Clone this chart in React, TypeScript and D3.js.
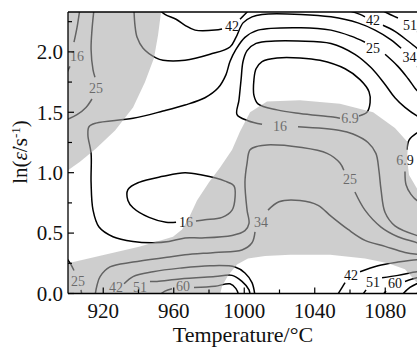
import { useEffect } from 'react';
import * as d3 from 'd3';

// processing map: temperature (°C) vs ln(strain rate)
const xDomain = [900, 1100];
const yDomain = [0, 2.33];
const xTicks = [920, 960, 1000, 1040, 1080];
const xMinorTicks = [940, 980, 1020, 1060];
const yTicks = [0, 0.5, 1.0, 1.5, 2.0];
const yMinorTicks = [0.25, 0.75, 1.25, 1.75, 2.25];

// instability domains (grey), [T, lnRate]
const grayTopLeft = [
  [895.5, 2.39], [953.3, 2.39], [952.8, 2.33], [951.1, 2.14], [948.8, 1.95], [943.7, 1.75],
  [936.9, 1.54], [926.7, 1.35], [915.9, 1.2], [906.8, 1.09], [900, 1.02], [895.5, 0.97],
];
const grayBand = [
  [895.5, 0.24], [900, 0.25], [940.9, 0.39], [959.6, 0.47], [964.7, 0.53], [968.7, 0.63],
  [973.2, 0.77], [980, 0.92], [986.2, 1.04], [993.1, 1.19], [997.6, 1.34], [1003.3, 1.5],
  [1012.9, 1.59], [1031.6, 1.6], [1054.3, 1.57], [1073.1, 1.5], [1085.5, 1.37], [1092.9, 1.25],
  [1092.4, 1.11], [1093.5, 0.98], [1098, 0.87], [1102.6, 0.86], [1102.6, 0.07], [1098, 0.09],
  [1091.2, 0.2], [1081.6, 0.25], [1068.5, 0.29], [1048.7, 0.32], [1026, 0.32], [1011.8, 0.31],
  [1002.1, 0.29], [995.9, 0.24], [990.8, 0.15], [987.4, 0.06], [985.7, -0.04], [895.5, -0.04],
];

// efficiency contour pieces (split where a label sits)
const c16TopLeft = [[[906.8, 2.36], [905.1, 2.2], [903.4, 2.08]], [[901.1, 1.88], [899.4, 1.83]]];
const c25TopLeft = [
  [[914.8, 2.36], [913.6, 2.18], [913.1, 2.02], [914.2, 1.85], [915.3, 1.79]],
  [[913.6, 1.61], [910.2, 1.54], [905.1, 1.48], [899.4, 1.44]],
];
const c34Upper = [
  [[937.4, 2.36], [938, 2.22], [939.2, 2.12], [942.6, 2.03], [949.9, 1.95], [953.9, 1.93],
   [966.4, 1.93], [980.6, 1.98], [991.9, 2.04], [995.3, 2.12], [999.3, 2.24], [1004.4, 2.29],
   [1010.1, 2.31], [1032.2, 2.31], [1049.2, 2.29], [1064.5, 2.24], [1074.2, 2.18], [1083.3, 2.1],
   [1089, 2.03]],
  [[1098, 1.88], [1100.9, 1.85]],
];
const c42Arc = [
  [[951.1, 2.36], [955, 2.31], [961.3, 2.27], [966.4, 2.22], [972.1, 2.18], [983.4, 2.18], [987.4, 2.19]],
  [[997.6, 2.27], [1001.6, 2.33], [1003.3, 2.36]],
];
const c42Upper = [
  [[1054.3, 2.36], [1057.2, 2.35], [1065.7, 2.31], [1068.5, 2.29]],
  [[1078.7, 2.22], [1085.5, 2.17], [1092.9, 2.09], [1098, 2.03], [1100.9, 1.99]],
];
const c51Upper = [[[1075.9, 2.36], [1079.9, 2.33], [1087.2, 2.28]], [[1098, 2.17], [1100, 2.16]]];
const c25Main = [
  [[1100.9, 1.65], [1098, 1.68], [1092.9, 1.78], [1087.2, 1.88], [1079.9, 1.98]],
  [[1068.5, 2.08], [1060.6, 2.13], [1049.2, 2.18], [1032.2, 2.2], [1007.8, 2.18], [1000.4, 2.12],
   [995.3, 2.02], [991.9, 1.92], [989.6, 1.81], [985.1, 1.7], [977.7, 1.62], [966.4, 1.56],
   [953.9, 1.51], [936.9, 1.45], [915.9, 1.41], [911.9, 1.38], [911.3, 1.31], [913.1, 1.16],
   [913.1, 0.92], [914.2, 0.69], [917.6, 0.55], [925.5, 0.47], [936.9, 0.43], [948.2, 0.42],
   [957.3, 0.43], [966.4, 0.46], [976, 0.46], [993.1, 0.48], [1000.4, 0.52], [1002.7, 0.58],
   [1001.6, 0.69], [1000.4, 0.92], [1001.6, 1.08], [1003.3, 1.19], [1007.8, 1.22], [1012.9, 1.23],
   [1031.6, 1.21], [1047, 1.16], [1054.3, 1.08], [1056.5, 1.02]],
  [[1062.8, 0.84], [1068.5, 0.69], [1077.6, 0.55], [1087.2, 0.47], [1098, 0.42], [1100.9, 0.4]],
];
const c16Main = [
  [[1100.9, 1.45], [1098, 1.47], [1091.2, 1.54], [1085.5, 1.62], [1079.9, 1.73], [1071.9, 1.87],
   [1062.8, 1.98], [1049.2, 2.07], [1030.5, 2.09], [1017.5, 2.09], [1006.7, 2.07], [1001.6, 2.01],
   [999.3, 1.92], [998.2, 1.77], [997, 1.6], [995.9, 1.48], [1002.1, 1.43], [1010.1, 1.4]],
  [[1030.5, 1.38], [1054.3, 1.35], [1061.7, 1.32], [1070.2, 1.25], [1074.7, 1.16], [1076.4, 1.02],
   [1077.6, 0.86], [1079.9, 0.67], [1085.5, 0.56], [1098, 0.48], [1100.9, 0.47]],
];
const c69Loop = [
  [[1065.1, 1.47], [1069.6, 1.5], [1071.4, 1.58], [1070.8, 1.67], [1065.7, 1.77], [1057.2, 1.86],
   [1043, 1.93], [1031.6, 1.95], [1018.6, 1.95], [1010.1, 1.92], [1006.7, 1.86], [1005.5, 1.77],
   [1005.5, 1.64], [1007.8, 1.57], [1018.6, 1.52], [1031.6, 1.49], [1050.4, 1.46], [1054.3, 1.45]],
];
const c69Right = [
  [[1100.9, 1.35], [1098, 1.33], [1093.5, 1.27], [1092.4, 1.19]],
  [[1091.2, 1.01], [1091.8, 0.9], [1094.6, 0.82], [1098, 0.77], [1100.9, 0.76]],
];
const c16Loop = [
  [[972.6, 0.6], [977.7, 0.61], [987.4, 0.63], [993.1, 0.69], [994.8, 0.8], [994.2, 0.89],
   [989.1, 0.93], [976, 0.98], [966.4, 1.0], [953.9, 0.97], [940.3, 0.92], [934, 0.86],
   [934, 0.77], [936.9, 0.71], [946, 0.63], [955.6, 0.59], [961.3, 0.59]],
];
const c25Corner = [[[899.4, 0.29], [901.7, 0.24], [903.4, 0.19]], [[907.4, 0.03], [907.9, -0.02]]];
const c34Band = [
  [[915.3, -0.02], [916.5, 0.07], [918.2, 0.14], [923.8, 0.22], [936.9, 0.26], [956.2, 0.3],
   [966.4, 0.32], [983.4, 0.34], [998.7, 0.36], [1004.4, 0.42], [1006.1, 0.51]],
  [[1013.5, 0.69], [1019.7, 0.76], [1031.6, 0.77], [1041.9, 0.73], [1049.2, 0.64], [1058.9, 0.53],
   [1068.5, 0.44], [1079.9, 0.39], [1091.2, 0.34], [1100.9, 0.32]],
];
const c42Band = [
  [[931.8, 0.08], [936.9, 0.14], [948.2, 0.18], [963.5, 0.21], [980.6, 0.23], [994.8, 0.22],
   [1000.4, 0.17], [1004.4, 0.09], [1006.1, -0.02]],
];
const c51Band = [
  [[946.5, 0.1], [950.5, 0.1], [963.5, 0.12], [983.4, 0.14], [993.1, 0.15], [998.7, 0.1],
   [1002.7, 0.03], [1003.3, -0.02]],
];
const c60Band = [
  [[951.1, -0.02], [955, 0.02], [959, 0.04]],
  [[971.5, 0.05], [983.4, 0.06], [991.9, 0.08], [995.3, 0.04], [997, -0.02]],
];
const c42Right = [
  [[1052.1, -0.03], [1057.2, 0.09]],
  [[1065.7, 0.18], [1075.9, 0.23], [1087.2, 0.26], [1098, 0.28], [1100.9, 0.28]],
];
const c51Right = [[[1066.2, -0.03], [1069.1, 0.03]], [[1078.2, 0.13], [1087.2, 0.15], [1098, 0.18], [1100.9, 0.18]]];
const c60Right = [[[1077.6, -0.03], [1080.4, 0.02]], [[1091.2, 0.1], [1098, 0.13], [1100.9, 0.14]]];
const cEdgeRight = [[[1088.4, -0.03], [1094, 0.05], [1100.9, 0.1]], [[1095.2, -0.03], [1100.9, 0.03]]];

// contour labels [text, T, lnRate]
const contourLabels = [
  ['16', 905.1, 1.96], ['25', 915.9, 1.7], ['42', 993.1, 2.21], ['42', 1073.1, 2.26],
  ['51', 1094, 2.215], ['34', 1093.8, 1.95], ['25', 1073.1, 2.03], ['16', 1020.3, 1.38],
  ['6.9', 1060, 1.45], ['6.9', 1091.2, 1.1], ['25', 1060, 0.94], ['16', 967, 0.585],
  ['34', 1009.5, 0.59], ['25', 905.7, 0.1], ['42', 927.2, 0.05], ['51', 940.9, 0.05],
  ['60', 965.2, 0.055], ['42', 1060.6, 0.145], ['51', 1073.1, 0.09], ['60', 1085.5, 0.08],
];

const contourPieces = [
  ...c16TopLeft, ...c25TopLeft, ...c34Upper, ...c42Arc, ...c42Upper, ...c51Upper, ...c25Main,
  ...c16Main, ...c69Loop, ...c69Right, ...c16Loop, ...c25Corner, ...c34Band, ...c42Band,
  ...c51Band, ...c60Band, ...c42Right, ...c51Right, ...c60Right, ...cEdgeRight,
];

const W = 417;
const H = 353;
const left = 68;
const top = 12;
const bottom = 293.5;
const right = 420.5;
const font = '"Liberation Serif", "Times New Roman", serif';

export default function App() {
  useEffect(() => {
    document.body.style.margin = '0';
  }, []);

  const x = d3.scaleLinear().domain(xDomain).range([left, right]);
  const y = d3.scaleLinear().domain(yDomain).range([bottom, top]);
  const line = d3.line<number[]>().x(d => x(d[0])).y(d => y(d[1])).curve(d3.curveCatmullRom.alpha(0.5));
  const area = d3.line<number[]>().x(d => x(d[0])).y(d => y(d[1])).curve(d3.curveLinearClosed);

  return (
    <svg width={W} height={H} style={{ display: 'block', background: '#fff' }}>
      <defs>
        <clipPath id="plot">
          <rect x={left} y={top} width={right - left} height={bottom - top} />
        </clipPath>
      </defs>
      <g clipPath="url(#plot)">
        {contourPieces.map((p, i) => (
          <path key={i} d={line(p) ?? ''} fill="none" stroke="#000" strokeWidth={1.5} />
        ))}
        {contourLabels.map(([t, tx, ty], i) => (
          <text key={i} x={x(tx as number)} y={y(ty as number)} textAnchor="middle" dominantBaseline="central"
            fontFamily={font} fontSize={14} fill="#111">{t}</text>
        ))}
        {[grayTopLeft, grayBand].map((g, i) => (
          <path key={i} d={area(g) ?? ''} fill="#aaaaaa" fillOpacity={0.58} stroke="none" />
        ))}
      </g>
      {/* frame */}
      <line x1={left} x2={left} y1={top} y2={bottom} stroke="#000" strokeWidth={1.3} />
      <line x1={left} x2={W} y1={bottom} y2={bottom} stroke="#000" strokeWidth={1.3} />
      <line x1={left} x2={W} y1={top} y2={top} stroke="#000" strokeWidth={1.3} />
      {xTicks.map(t => (
        <g key={t}>
          <line x1={x(t)} x2={x(t)} y1={bottom} y2={bottom - 6} stroke="#000" strokeWidth={1.2} />
          <text x={x(t)} y={318} textAnchor="middle" fontFamily={font} fontSize={21} fill="#111">{t}</text>
        </g>
      ))}
      {xMinorTicks.map(t => (
        <line key={t} x1={x(t)} x2={x(t)} y1={bottom} y2={bottom - 4} stroke="#000" strokeWidth={1.2} />
      ))}
      {yTicks.map(t => (
        <g key={t}>
          <line x1={left} x2={left + 6} y1={y(t)} y2={y(t)} stroke="#000" strokeWidth={1.2} />
          <text x={63} y={y(t)} dy="0.35em" textAnchor="end" fontFamily={font} fontSize={21} fill="#111">
            {d3.format('.1f')(t)}
          </text>
        </g>
      ))}
      {yMinorTicks.map(t => (
        <line key={t} x1={left} x2={left + 4} y1={y(t)} y2={y(t)} stroke="#000" strokeWidth={1.2} />
      ))}
      <text x={243} y={342} textAnchor="middle" fontFamily={font} fontSize={22} fill="#111">
        Temperature/°C
      </text>
      <text transform="translate(27,152) rotate(-90)" textAnchor="middle" fontFamily={font} fontSize={21} fill="#111">
        ln(<tspan fontStyle="italic">ε̇</tspan>/s<tspan dy="-7" fontSize={13}>-1</tspan><tspan dy="7">)</tspan>
      </text>
    </svg>
  );
}
